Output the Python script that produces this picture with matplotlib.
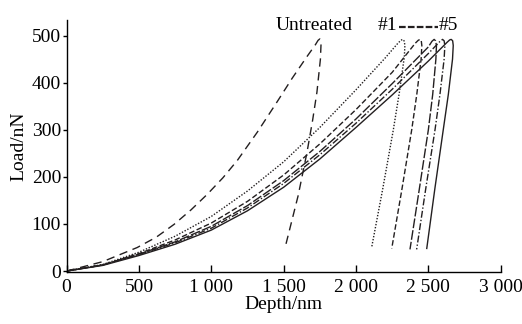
import matplotlib
matplotlib.use("Agg")
import matplotlib.pyplot as plt

plt.rcParams['font.family'] = ['Liberation Serif', 'DejaVu Serif']

# ---- data (depth in nm, load in nN) ----
# Untreated
untreated_load_h = [0, 250, 488, 620, 742, 860, 972, 1080, 1180, 1318, 1456, 1560, 1660, 1720, 1738, 1750]
untreated_load_p = [0, 20, 50, 72, 99, 130, 163, 198, 235, 295, 360, 410, 455, 481, 490, 493]
untreated_unload_h = [1750, 1757, 1758, 1754, 1730, 1700, 1660, 1600, 1510]
untreated_unload_p = [493, 489, 480, 450, 380, 320, 250, 160, 50]

# #1 (dotted)
s1_load_h = [0, 250, 500, 750, 1000, 1250, 1500, 1750, 2000, 2200, 2290, 2310, 2322]
s1_load_p = [0, 14, 40, 74, 116, 170, 232, 305, 385, 452, 484, 490, 492]
s1_unload_h = [2322, 2332, 2338, 2334, 2300, 2258, 2185, 2108]
s1_unload_p = [492, 489, 480, 455, 380, 300, 175, 50]

# #2 (dashed)
s2_load_h = [0, 250, 500, 750, 1000, 1250, 1500, 1750, 2000, 2250, 2410, 2430, 2442]
s2_load_p = [0, 13, 37, 66, 102, 148, 204, 270, 343, 422, 484, 490, 492]
s2_unload_h = [2442, 2451, 2455, 2450, 2420, 2385, 2318, 2247]
s2_unload_p = [492, 489, 479, 450, 375, 300, 175, 48]

# #3 (long dash)
s3_load_h = [0, 250, 500, 750, 1000, 1250, 1500, 1750, 2000, 2250, 2500, 2525, 2540]
s3_load_p = [0, 13, 36, 62, 95, 139, 192, 254, 323, 398, 476, 488, 492]
s3_unload_h = [2540, 2550, 2556, 2552, 2530, 2500, 2438, 2373]
s3_unload_p = [492, 489, 479, 450, 375, 300, 175, 46]

# #4 (dash-dot)
s4_load_h = [0, 250, 500, 750, 1000, 1250, 1500, 1750, 2000, 2250, 2500, 2578, 2598]
s4_load_p = [0, 13, 35, 60, 91, 134, 186, 247, 314, 386, 462, 487, 492]
s4_unload_h = [2598, 2609, 2614, 2609, 2580, 2546, 2482, 2419]
s4_unload_p = [492, 489, 479, 450, 375, 300, 175, 46]

# #5 (solid)
s5_load_h = [0, 250, 500, 750, 1000, 1250, 1500, 1750, 2000, 2250, 2500, 2630, 2648, 2658]
s5_load_p = [0, 12, 33, 57, 87, 128, 178, 238, 305, 374, 446, 486, 491, 492]
s5_unload_h = [2658, 2668, 2672, 2667, 2638, 2603, 2545, 2489]
s5_unload_p = [492, 489, 479, 450, 375, 300, 175, 48]

x_ticks = [0, 500, 1000, 1500, 2000, 2500, 3000]
x_tick_labels = ['0', '500', '1 000', '1 500', '2 000', '2 500', '3 000']
y_ticks = [0, 100, 200, 300, 400, 500]
y_tick_labels = ['0', '100', '200', '300', '400', '500']

fig = plt.figure(figsize=(5.22, 3.24), dpi=100)
ax = fig.add_axes([0.1276, 0.1605, 0.9592 - 0.1276, 0.938 - 0.1605])

lw = 1.0
styles = [
    (untreated_load_h, untreated_load_p, untreated_unload_h, untreated_unload_p, (0, (6, 4))),
    (s1_load_h, s1_load_p, s1_unload_h, s1_unload_p, (0, (1, 1.2))),
    (s2_load_h, s2_load_p, s2_unload_h, s2_unload_p, (0, (4, 1.8))),
    (s3_load_h, s3_load_p, s3_unload_h, s3_unload_p, (0, (7, 1.5))),
    (s4_load_h, s4_load_p, s4_unload_h, s4_unload_p, (0, (5, 1.5, 1, 1.5))),
    (s5_load_h, s5_load_p, s5_unload_h, s5_unload_p, '-'),
]
for lh, lp, uh, up, ls in styles:
    h = list(lh) + list(uh[1:])
    p = list(lp) + list(up[1:])
    ax.plot(h, p, color='#231f20', lw=lw, linestyle=ls, solid_joinstyle='round')

ax.set_xlim(0, 3000)
ax.set_ylim(-2, 533)
ax.set_xticks(x_ticks)
ax.set_xticklabels(x_tick_labels)
ax.set_yticks(y_ticks)
ax.set_yticklabels(y_tick_labels)
ax.spines['top'].set_visible(False)
ax.spines['right'].set_visible(False)
for s in ('left', 'bottom'):
    ax.spines[s].set_linewidth(1.0)
ax.tick_params(axis='x', direction='in', length=5, width=1.0, labelsize=14, pad=5)
ax.tick_params(axis='y', direction='out', length=3, width=1.0, labelsize=14, pad=1)
ax.set_xlabel('Depth/nm', fontsize=14, labelpad=0)
ax.set_ylabel('Load/nN', fontsize=14, labelpad=3)

ax.text(1710, 522, 'Untreated', fontsize=14, ha='center', va='center')
ax.text(2150, 522, '#1', fontsize=14, ha='left', va='center')
ax.text(2640, 522, '#5', fontsize=14, ha='center', va='center')
ax.plot([2295, 2565], [519, 519], color='#231f20', lw=1.6, linestyle=(0, (3, 1)), clip_on=False)

fig.savefig('out.png', dpi=100)
